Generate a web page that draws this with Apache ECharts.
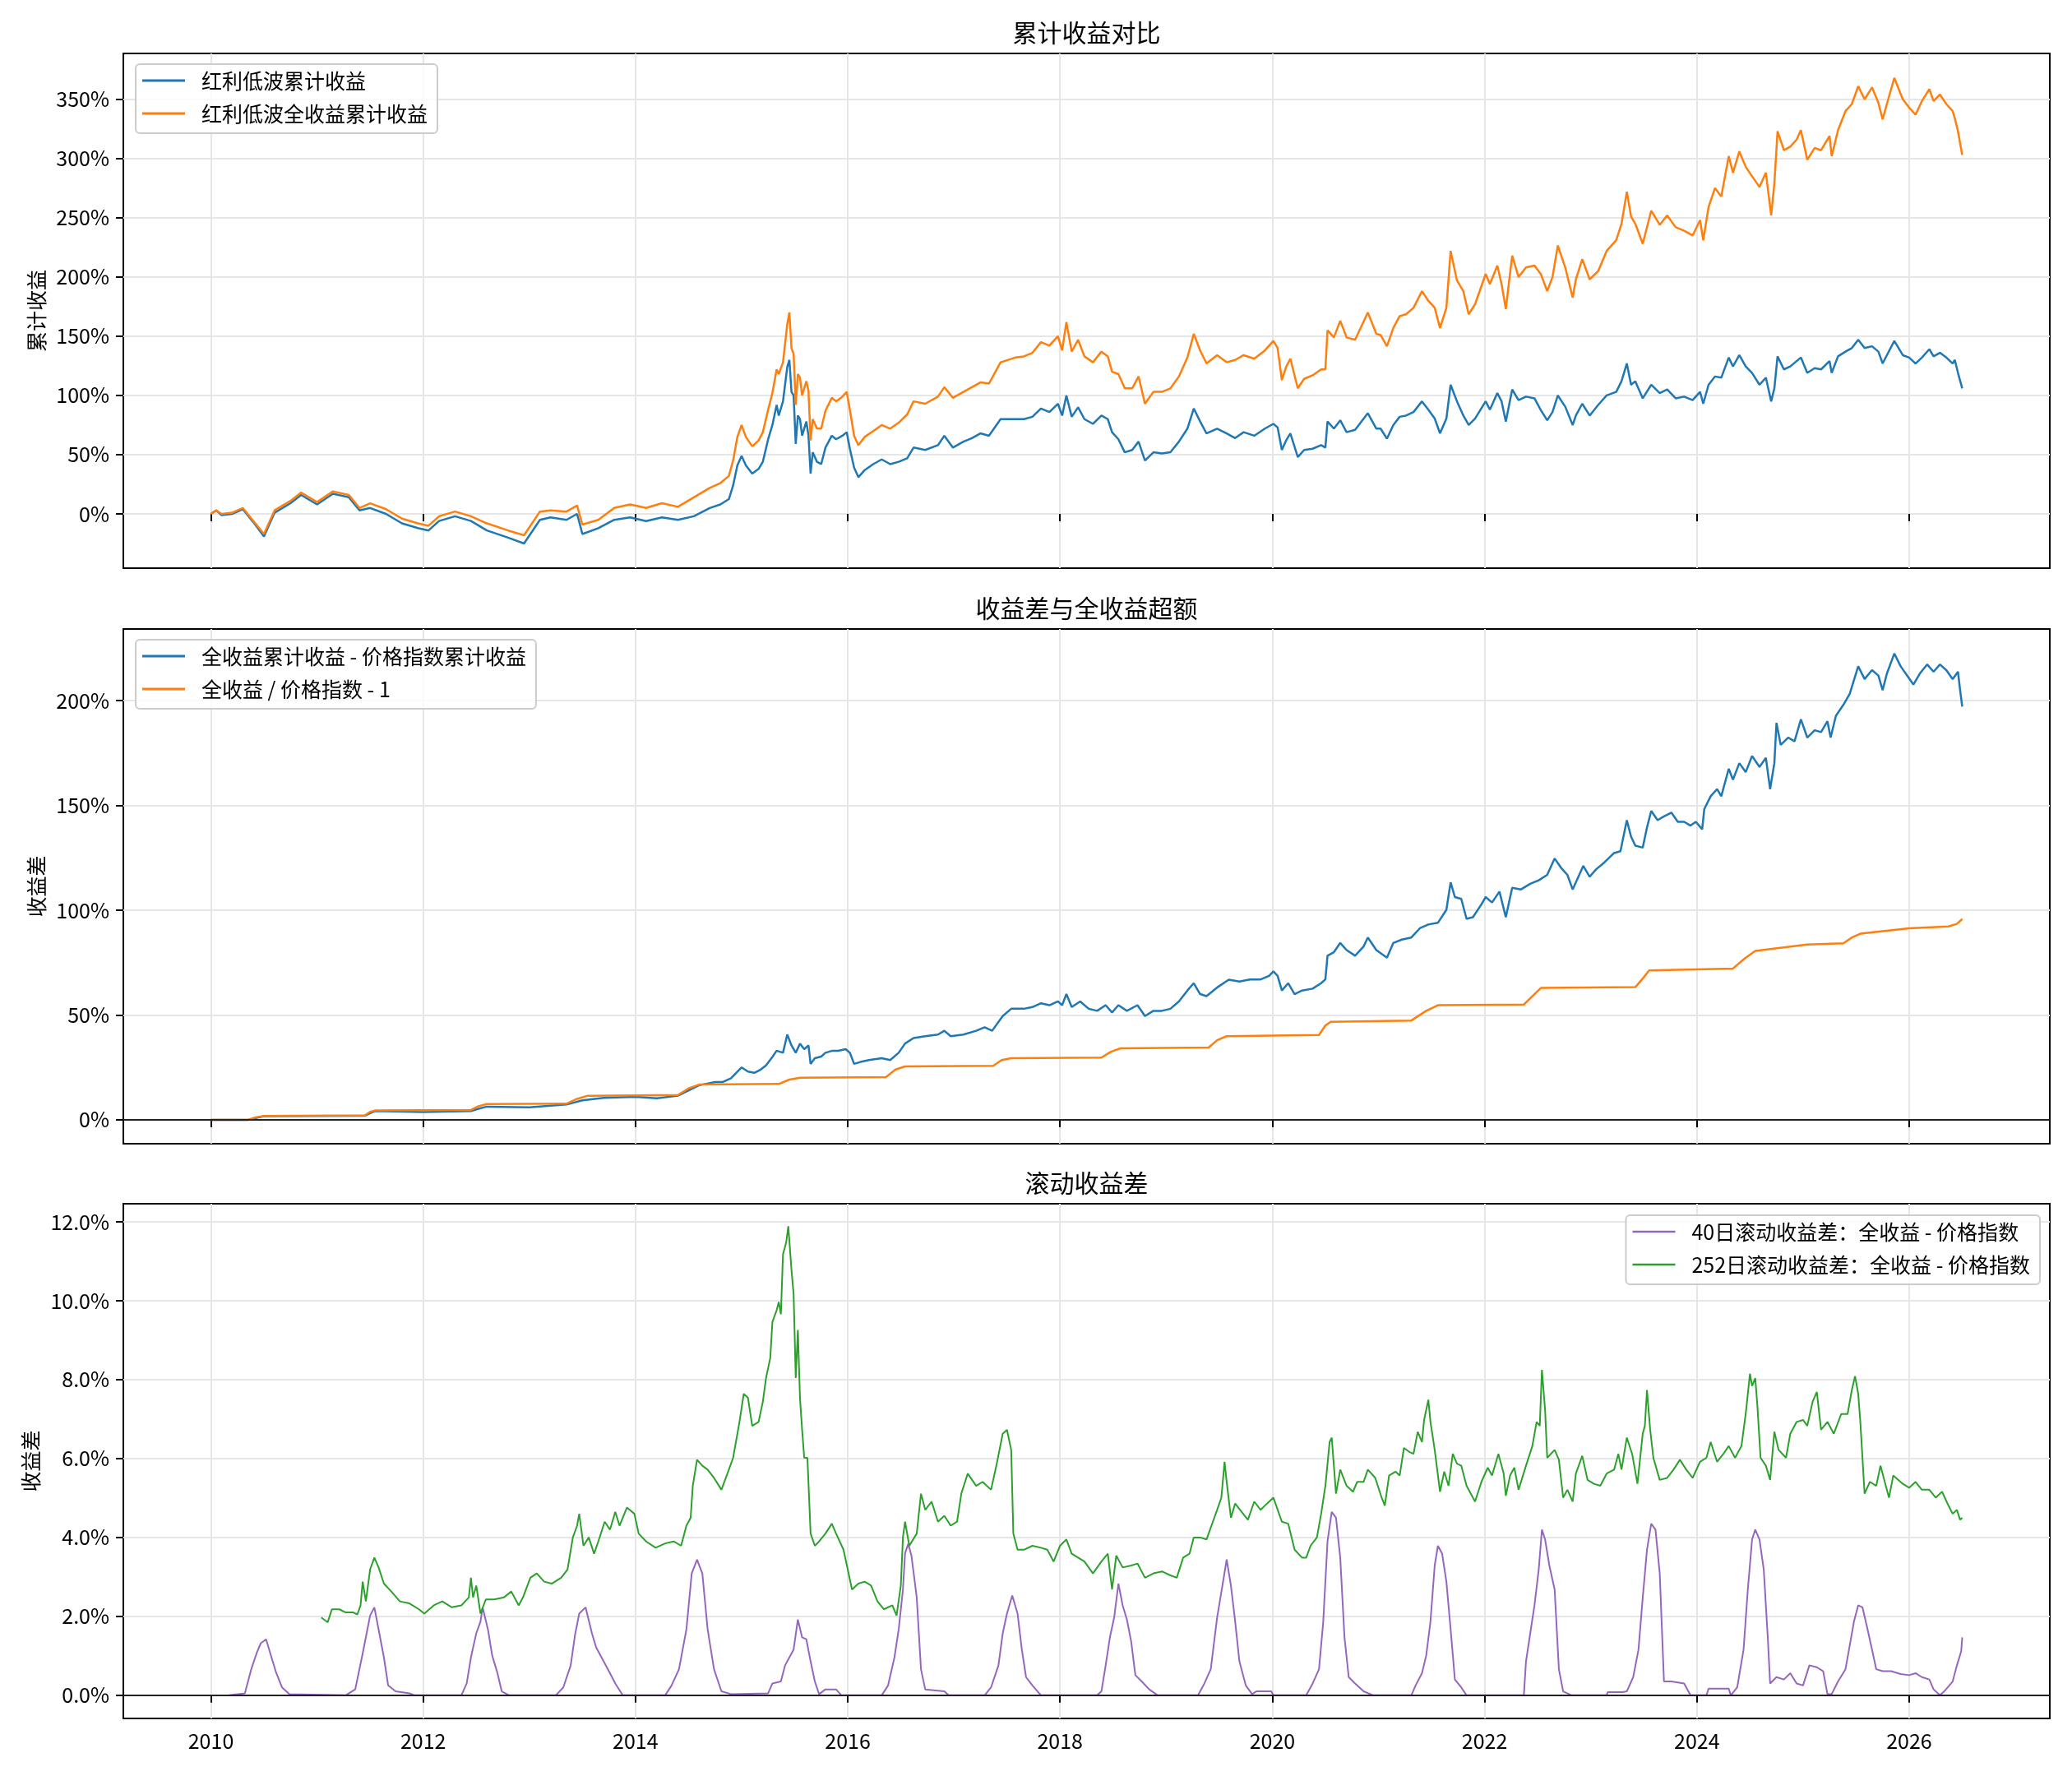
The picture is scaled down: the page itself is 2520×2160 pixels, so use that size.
<!DOCTYPE html>
<html>
<head>
<meta charset="utf-8">
<script src="https://cdn.jsdelivr.net/npm/echarts@6/dist/echarts.min.js"></script>
<style>
  html, body { margin: 0; padding: 0; background: #fff; }
  #chart { width: 2520px; height: 2160px; }
</style>
</head>
<body>
<div id="chart"></div>
<script>
// ---- 累计收益对比 (decimal years / %)
const cumX = [
  2010.00, 2010.05, 2010.10, 2010.20, 2010.30, 2010.40, 2010.50, 2010.60, 2010.75, 2010.85,
  2011.00, 2011.15, 2011.30, 2011.40, 2011.50, 2011.65, 2011.80, 2011.95,
  2012.05, 2012.15, 2012.30, 2012.45, 2012.60, 2012.80, 2012.95,
  2013.10, 2013.20, 2013.35, 2013.45, 2013.50, 2013.65, 2013.80, 2013.95,
  2014.10, 2014.25, 2014.40, 2014.55, 2014.70, 2014.80,
  2014.88, 2014.92, 2014.96, 2015.00, 2015.04, 2015.10, 2015.16, 2015.20, 2015.25, 2015.29, 2015.33, 2015.35, 2015.39, 2015.43, 2015.45, 2015.47, 2015.49, 2015.51, 2015.53, 2015.55, 2015.57, 2015.61, 2015.63, 2015.65, 2015.67, 2015.71, 2015.75, 2015.79, 2015.85, 2015.89, 2015.95, 2015.99,
  2016.02, 2016.06, 2016.10, 2016.16, 2016.24, 2016.32, 2016.40, 2016.48, 2016.56, 2016.62, 2016.73, 2016.85, 2016.91, 2016.99,
  2017.09, 2017.17, 2017.25, 2017.33, 2017.44, 2017.58, 2017.66, 2017.74, 2017.82, 2017.90, 2017.98,
  2018.02, 2018.06, 2018.11, 2018.17, 2018.23, 2018.31, 2018.39, 2018.45, 2018.49, 2018.55, 2018.61, 2018.68, 2018.74, 2018.80, 2018.88, 2018.96,
  2019.04, 2019.12, 2019.20, 2019.26, 2019.32, 2019.38, 2019.48, 2019.57, 2019.65, 2019.73, 2019.83, 2019.93,
  2020.01, 2020.05, 2020.09, 2020.13, 2020.17, 2020.24, 2020.30, 2020.38, 2020.46, 2020.50, 2020.52, 2020.58, 2020.64, 2020.70, 2020.78, 2020.90, 2020.98,
  2021.02, 2021.08, 2021.14, 2021.20, 2021.26, 2021.33, 2021.41, 2021.47, 2021.53, 2021.58, 2021.64, 2021.68, 2021.74, 2021.80, 2021.85, 2021.91,
  2022.01, 2022.05, 2022.12, 2022.16, 2022.20, 2022.26, 2022.32, 2022.39, 2022.47, 2022.53, 2022.59, 2022.64, 2022.69, 2022.76, 2022.83, 2022.86, 2022.92, 2022.99,
  2023.07, 2023.15, 2023.24, 2023.29, 2023.34, 2023.38, 2023.42, 2023.49, 2023.57, 2023.65, 2023.72, 2023.80, 2023.88, 2023.96,
  2024.03, 2024.06, 2024.11, 2024.17, 2024.23, 2024.30, 2024.34, 2024.40, 2024.46, 2024.52, 2024.59, 2024.65, 2024.70, 2024.73, 2024.76, 2024.82, 2024.88, 2024.94, 2024.98,
  2025.04, 2025.11, 2025.17, 2025.25, 2025.27, 2025.33, 2025.40, 2025.46, 2025.52, 2025.58, 2025.65, 2025.71, 2025.75, 2025.79, 2025.86, 2025.94,
  2026.00, 2026.06, 2026.12, 2026.19, 2026.23, 2026.29, 2026.35, 2026.41, 2026.43, 2026.46, 2026.50
];
const priceCum = [
  0, 3, -1, 0, 4, -7, -19, 1, 9, 16,
  8, 17, 14, 3, 5, 0, -8, -12,
  -14, -6, -2, -6, -14, -20, -25,
  -5, -3, -5, 0, -17, -12, -5, -3,
  -6, -3, -5, -2, 5, 8,
  12.5, 24, 41, 49, 41, 34, 38, 44, 63, 75, 92, 83, 95, 124, 130, 103, 100, 59, 83, 80, 66, 78, 66, 34, 52, 44, 42, 56, 66, 63, 66, 69,
  55, 39, 31, 37, 42, 46, 42, 44, 47, 56, 54, 58, 66, 56,
  61, 64, 68, 66, 80, 80, 80, 82, 89, 86, 93,
  83, 100, 82, 90, 80, 76, 83, 80, 69, 63, 52, 54, 61, 45, 52, 51,
  52, 61, 72, 89, 78, 68, 72, 68, 64, 69, 66, 72,
  76, 73, 54, 62, 68, 48, 54, 55, 58, 56, 78, 72, 79, 69, 71, 85, 72,
  72, 63.5, 75, 82, 83, 86, 95, 88, 80.5, 68, 80.5, 109, 95, 83, 75, 80.5,
  95, 88, 102, 95, 78, 105, 96, 99, 97.6, 87.6, 79, 86, 100, 90.5, 75, 83, 93, 83,
  92, 100, 103, 112, 127, 109, 112, 97.6, 109, 102, 105, 97.6, 99, 96,
  103, 93, 109, 116, 115, 132, 124.5, 134, 124.5, 119, 109, 115, 95, 106, 133, 122, 124.5, 129, 132,
  119, 123, 122, 129, 119, 133, 137, 140, 147, 140, 141.5, 137, 127, 134, 146, 134,
  132, 127, 132, 139, 133, 136, 132, 127, 130, 119, 106
];
const totalCum = [
  0, 3, 0, 1, 5, -6, -17, 3, 11, 18,
  10, 19, 16, 5, 9, 4, -4, -8,
  -10, -2, 2, -2, -8, -14, -18,
  2, 3, 2, 7, -9, -5, 5, 8,
  5, 9, 6, 14, 22, 26,
  32, 45, 65, 75, 65, 57, 62, 69, 88, 102, 122, 118, 128, 160, 170, 140, 135, 92, 118, 115, 100, 112, 104, 62, 80, 72, 72, 87, 98, 95, 99, 103,
  88, 66, 58, 65, 70, 75, 72, 77, 84, 95, 93, 99, 107, 98,
  103, 107, 111, 110, 128, 132, 133, 136, 145, 142, 150,
  138, 162, 137, 147, 133, 128, 137, 133, 120, 118, 106, 106, 116, 93, 103, 103,
  106, 116, 132, 152, 138, 127, 134, 128, 130, 134, 131, 138,
  146, 140, 113, 124, 131, 106, 114, 117, 122, 122, 155, 149, 163, 149, 147, 170, 152,
  151, 141.5, 157, 167, 168.5, 174, 188, 180, 174, 157, 174, 222, 197, 188, 168.5, 177,
  202.5, 194, 209.6, 194, 173, 218, 200, 208, 209.6, 202.5, 188, 200, 226.6, 208, 182.6, 198, 215, 198,
  205, 222, 231, 245, 272, 251, 245, 228, 256, 244, 252, 242, 239, 235,
  248, 231, 259, 275, 268, 302, 288, 306, 293, 285, 276, 288, 252, 279, 323, 307, 310, 316, 324,
  299, 309, 307, 319, 302, 324, 340, 346, 361, 350, 360, 347, 333, 346, 368, 350,
  343, 337, 348.5, 358.5, 348.5, 354, 346, 340, 334, 323, 303
];

// ---- 收益差与全收益超额
const gapX = [
  2010.00, 2010.35, 2010.42, 2010.50, 2011.00, 2011.45, 2011.50, 2011.55, 2012.00, 2012.45, 2012.52, 2012.60, 2013.00, 2013.35, 2013.50, 2013.70, 2014.00, 2014.20, 2014.40, 2014.60, 2014.75,
  2014.82, 2014.90, 2015.00, 2015.06, 2015.12, 2015.18, 2015.23, 2015.29, 2015.33, 2015.39, 2015.43, 2015.47, 2015.51, 2015.55, 2015.59, 2015.63, 2015.65, 2015.69, 2015.75, 2015.79, 2015.85, 2015.91, 2015.98,
  2016.02, 2016.06, 2016.12, 2016.20, 2016.32, 2016.40, 2016.48, 2016.54, 2016.62, 2016.73, 2016.85, 2016.91, 2016.97,
  2017.09, 2017.21, 2017.29, 2017.36, 2017.46, 2017.54, 2017.66, 2017.74, 2017.82, 2017.90, 2017.98,
  2018.02, 2018.06, 2018.11, 2018.19, 2018.27, 2018.35, 2018.43, 2018.49, 2018.55, 2018.63, 2018.73, 2018.80, 2018.88, 2018.96,
  2019.04, 2019.12, 2019.20, 2019.26, 2019.32, 2019.38, 2019.49, 2019.59, 2019.69, 2019.79, 2019.89, 2019.97,
  2020.01, 2020.05, 2020.09, 2020.15, 2020.21, 2020.28, 2020.38, 2020.46, 2020.50, 2020.52, 2020.58, 2020.64, 2020.70, 2020.78, 2020.86, 2020.90, 2020.98,
  2021.08, 2021.14, 2021.22, 2021.31, 2021.39, 2021.47, 2021.56, 2021.64, 2021.68, 2021.72, 2021.78, 2021.83, 2021.89, 2021.97,
  2022.01, 2022.07, 2022.14, 2022.20, 2022.26, 2022.34, 2022.43, 2022.51, 2022.59, 2022.66, 2022.72, 2022.78, 2022.83, 2022.93, 2022.99,
  2023.05, 2023.13, 2023.22, 2023.28, 2023.34, 2023.38, 2023.42, 2023.49, 2023.53, 2023.57, 2023.63, 2023.69, 2023.76, 2023.82, 2023.88, 2023.94, 2023.99,
  2024.05, 2024.07, 2024.13, 2024.19, 2024.23, 2024.30, 2024.34, 2024.40, 2024.46, 2024.52, 2024.59, 2024.65, 2024.69, 2024.73, 2024.75, 2024.79, 2024.86, 2024.92, 2024.98,
  2025.04, 2025.11, 2025.17, 2025.23, 2025.26, 2025.31, 2025.38, 2025.44, 2025.52, 2025.58, 2025.65, 2025.71, 2025.75, 2025.79, 2025.86, 2025.92, 2025.98,
  2026.04, 2026.10, 2026.17, 2026.23, 2026.29, 2026.35, 2026.41, 2026.46, 2026.48, 2026.50
];
const gapValues = [
  0, 0, 0.8, 1.7, 1.8, 1.9, 3.2, 4.2, 3.7, 4.2, 5.3, 6.3, 6.0, 7.3, 9.3, 10.5, 11, 10.3, 11.5, 16.5, 18,
  18, 19.8, 25, 23, 22.4, 24, 26, 30, 33, 32, 40.7, 35.5, 32, 36.4, 33.7, 35.5, 26.7, 29.4, 30.2, 32, 32.9, 32.9, 33.7,
  32, 26.7, 27.6, 28.5, 29.4, 28.5, 32, 36.4, 39, 39.9, 40.7, 42.5, 39.9,
  40.7, 42.5, 44.2, 42.5, 49.5, 53, 53, 53.8, 55.6, 54.7, 56.5,
  54.7, 60, 53.8, 56.5, 53, 52, 54.7, 51.2, 54.7, 52, 54.7, 49.5, 52, 52,
  53, 56.5, 61.7, 65.2, 60, 59, 63.5, 66.9, 66, 67, 67, 68.7,
  70.8, 68.7, 61.7, 65.2, 60, 61.7, 62.6, 65.2, 67, 78.3, 80, 84.4, 81, 78.3, 82.7, 87, 81,
  77.4, 84.4, 86, 87, 91.4, 93.2, 94, 100.2, 113.3, 106.3, 105.4, 95.9, 96.7, 102.8,
  106.3, 103.7, 108.9, 96.7, 110.7, 109.9, 112.6, 114.3, 116.9, 124.7, 120.3, 116.9, 109.9, 121.2, 116,
  119.5, 122.9, 127.3, 128.2, 143, 135.1, 130.8, 129.9, 139.5, 147.4, 143, 144.8, 146.6, 142.2, 142.2, 140.4, 142.2,
  138.6, 148.3, 154.4, 157.8, 154.4, 167.5, 162.3, 170.2, 165.9, 173.6, 168.4, 172.7, 157.8, 170.2, 189.4, 178.9, 182.4, 180.6, 191.1,
  182.4, 185.9, 185, 190.2, 182.4, 192.8, 198, 203.3, 216.4, 210.3, 214.6, 212, 205, 212.9, 222.5, 216.4, 212,
  207.7, 212.9, 217.3, 213.8, 217.3, 214.6, 210.3, 213.8, 205, 197.2
];
const ratioX = [
  2010.00, 2010.35, 2010.42, 2010.50, 2011.45, 2011.50, 2011.55, 2012.45, 2012.52, 2012.60,
  2013.35, 2013.45, 2013.55, 2014.40, 2014.50, 2014.60, 2015.35, 2015.45, 2015.55, 2016.36,
  2016.45, 2016.54, 2017.37, 2017.45, 2017.54, 2018.39, 2018.48, 2018.57, 2019.40, 2019.48,
  2019.57, 2020.44, 2020.50, 2020.55, 2021.31, 2021.45, 2021.56, 2022.37, 2022.45, 2022.53,
  2023.42, 2023.50, 2023.55, 2024.34, 2024.45, 2024.55, 2025.04, 2025.38, 2025.46, 2025.54,
  2026.00, 2026.37, 2026.45, 2026.50
];
const ratioValues = [
  0, 0, 1.2, 1.8, 2.1, 3.8, 4.5, 4.7, 6.5, 7.5,
  7.7, 10, 11.5, 11.8, 15, 16.8, 17.1, 19.2, 20.1, 20.4,
  24, 25.5, 25.8, 28.5, 29.4, 29.7, 32.5, 34.1, 34.5, 38,
  39.9, 40.5, 45, 46.8, 47.4, 52, 54.7, 55, 59, 62.9,
  63.3, 68, 71.3, 72.2, 77, 80.6, 83.6, 84.2, 87, 88.8,
  91.4, 92.3, 93.5, 95.8
];

// ---- 滚动收益差
const roll40X = [
  2010.17, 2010.32, 2010.38, 2010.43, 2010.47, 2010.52, 2010.56, 2010.61, 2010.67, 2010.74,
  2011.27, 2011.36, 2011.43, 2011.50, 2011.54, 2011.58, 2011.63, 2011.67, 2011.74, 2011.87, 2011.92,
  2012.36, 2012.41, 2012.45, 2012.50, 2012.54, 2012.56, 2012.61, 2012.65, 2012.70, 2012.74, 2012.81,
  2013.25, 2013.32, 2013.39, 2013.43, 2013.47, 2013.53, 2013.59, 2013.63, 2013.70, 2013.76, 2013.81, 2013.88,
  2014.28, 2014.34, 2014.41, 2014.48, 2014.53, 2014.58, 2014.63, 2014.68, 2014.74, 2014.81, 2014.90,
  2015.25, 2015.29, 2015.37, 2015.41, 2015.45, 2015.49, 2015.53, 2015.57, 2015.61, 2015.65, 2015.69, 2015.73, 2015.79, 2015.89, 2015.94,
  2016.32, 2016.38, 2016.44, 2016.48, 2016.52, 2016.54, 2016.57, 2016.60, 2016.65, 2016.69, 2016.73, 2016.91, 2016.95,
  2017.29, 2017.35, 2017.42, 2017.46, 2017.50, 2017.55, 2017.60, 2017.64, 2017.68, 2017.74, 2017.82,
  2018.35, 2018.39, 2018.43, 2018.47, 2018.51, 2018.55, 2018.59, 2018.63, 2018.67, 2018.71, 2018.77, 2018.84, 2018.92,
  2019.30, 2019.36, 2019.42, 2019.48, 2019.53, 2019.57, 2019.61, 2019.65, 2019.69, 2019.75, 2019.81, 2019.85, 2019.99,
  2020.01, 2020.32, 2020.38, 2020.44, 2020.48, 2020.52, 2020.56, 2020.60, 2020.64, 2020.68, 2020.72, 2020.78, 2020.86, 2020.95,
  2021.31, 2021.35, 2021.41, 2021.45, 2021.49, 2021.53, 2021.56, 2021.60, 2021.64, 2021.68, 2021.72, 2021.78, 2021.83,
  2022.37, 2022.39, 2022.43, 2022.47, 2022.51, 2022.54, 2022.57, 2022.61, 2022.66, 2022.70, 2022.74, 2022.82,
  2023.15, 2023.16, 2023.30, 2023.34, 2023.40, 2023.45, 2023.49, 2023.53, 2023.57, 2023.61, 2023.65, 2023.69, 2023.76, 2023.88, 2023.94,
  2024.09, 2024.11, 2024.30, 2024.32, 2024.38, 2024.44, 2024.48, 2024.52, 2024.55, 2024.59, 2024.63, 2024.67, 2024.69, 2024.75, 2024.82, 2024.88, 2024.94,
  2025.00, 2025.06, 2025.13, 2025.19, 2025.23, 2025.27, 2025.33, 2025.40, 2025.44, 2025.48, 2025.52, 2025.56, 2025.60, 2025.65, 2025.69, 2025.75, 2025.83, 2025.92,
  2026.00, 2026.06, 2026.12, 2026.19, 2026.23, 2026.29, 2026.33, 2026.41, 2026.45, 2026.49, 2026.50
];
const roll40Values = [
  0, 0.05, 0.66, 1.06, 1.32, 1.42, 1.06, 0.61, 0.2, 0.03,
  0, 0.15, 1.06, 2.02, 2.23, 1.67, 0.96, 0.25, 0.1, 0.05, 0,
  0, 0.3, 0.96, 1.57, 1.87, 2.23, 1.67, 1.01, 0.56, 0.1, 0,
  0, 0.2, 0.76, 1.52, 2.07, 2.23, 1.57, 1.21, 0.86, 0.56, 0.3, 0,
  0, 0.25, 0.66, 1.67, 3.09, 3.44, 3.09, 1.67, 0.66, 0.1, 0.03,
  0.05, 0.3, 0.35, 0.76, 0.96, 1.16, 1.92, 1.47, 1.42, 0.86, 0.35, 0.03, 0.15, 0.15, 0,
  0, 0.25, 0.96, 1.67, 2.68, 3.6, 3.84, 3.54, 2.48, 0.66, 0.15, 0.1, 0,
  0, 0.2, 0.76, 1.57, 2.07, 2.53, 2.07, 1.16, 0.46, 0.25, 0,
  0, 0.1, 0.76, 1.47, 1.97, 2.83, 2.28, 1.92, 1.37, 0.51, 0.35, 0.15, 0,
  0, 0.3, 0.66, 1.97, 2.78, 3.44, 2.78, 1.87, 0.86, 0.25, 0.03, 0.1, 0.1,
  0, 0, 0.3, 0.66, 1.87, 3.9, 4.65, 4.5, 3.49, 1.47, 0.46, 0.3, 0.1, 0,
  0, 0.25, 0.56, 1.01, 1.87, 3.29, 3.79, 3.59, 2.88, 1.67, 0.4, 0.2, 0,
  0, 0.86, 1.57, 2.28, 3.19, 4.2, 3.95, 3.29, 2.68, 0.66, 0.1, 0,
  0, 0.08, 0.08, 0.1, 0.46, 1.16, 2.48, 3.69, 4.35, 4.2, 3.09, 0.35, 0.35, 0.3, 0,
  0, 0.17, 0.17, 0, 0.2, 1.16, 2.68, 3.95, 4.2, 3.95, 3.19, 1.37, 0.3, 0.46, 0.4, 0.56, 0.3,
  0.25, 0.76, 0.71, 0.61, 0.03, 0.03, 0.35, 0.66, 1.26, 1.87, 2.28, 2.23, 1.77, 1.16, 0.66, 0.61, 0.61, 0.54,
  0.51, 0.56, 0.46, 0.4, 0.15, 0, 0.1, 0.35, 0.76, 1.11, 1.47
];
const roll252X = [
  2011.04, 2011.10, 2011.14, 2011.21, 2011.27, 2011.34, 2011.38, 2011.41, 2011.43, 2011.46, 2011.50, 2011.54, 2011.58, 2011.63, 2011.70, 2011.78, 2011.87, 2011.96,
  2012.01, 2012.10, 2012.18, 2012.27, 2012.36, 2012.43, 2012.45, 2012.47, 2012.50, 2012.54, 2012.59, 2012.67, 2012.76, 2012.83, 2012.90, 2012.94,
  2013.01, 2013.07, 2013.14, 2013.21, 2013.30, 2013.36, 2013.41, 2013.45, 2013.47, 2013.51, 2013.56, 2013.61, 2013.65, 2013.71, 2013.76, 2013.81, 2013.85, 2013.92, 2013.99,
  2014.03, 2014.10, 2014.19, 2014.28, 2014.36, 2014.43, 2014.48, 2014.52, 2014.54, 2014.58, 2014.63, 2014.68, 2014.74, 2014.81, 2014.88, 2014.92, 2014.98,
  2015.02, 2015.06, 2015.10, 2015.16, 2015.20, 2015.23, 2015.27, 2015.29, 2015.33, 2015.35, 2015.37, 2015.39, 2015.42, 2015.44, 2015.47, 2015.49, 2015.51, 2015.53, 2015.55, 2015.57, 2015.59, 2015.62, 2015.65, 2015.69, 2015.73, 2015.79, 2015.85, 2015.89, 2015.96,
  2016.00, 2016.04, 2016.10, 2016.16, 2016.22, 2016.28, 2016.34, 2016.42, 2016.46, 2016.50, 2016.52, 2016.54, 2016.58, 2016.65, 2016.69, 2016.73, 2016.79, 2016.85, 2016.91, 2016.97,
  2017.03, 2017.07, 2017.13, 2017.21, 2017.27, 2017.35, 2017.40, 2017.46, 2017.50, 2017.54, 2017.56, 2017.60, 2017.66, 2017.74, 2017.82, 2017.88, 2017.94,
  2018.00, 2018.06, 2018.11, 2018.17, 2018.23, 2018.31, 2018.39, 2018.45, 2018.49, 2018.53, 2018.59, 2018.67, 2018.73, 2018.80, 2018.88, 2018.96,
  2019.04, 2019.10, 2019.16, 2019.22, 2019.26, 2019.32, 2019.38, 2019.44, 2019.48, 2019.52, 2019.55, 2019.57, 2019.61, 2019.65, 2019.71, 2019.77, 2019.83, 2019.89, 2019.95,
  2020.01, 2020.09, 2020.15, 2020.21, 2020.28, 2020.32, 2020.36, 2020.42, 2020.46, 2020.50, 2020.54, 2020.56, 2020.60, 2020.64, 2020.70, 2020.76, 2020.80, 2020.86, 2020.90, 2020.97,
  2021.03, 2021.06, 2021.10, 2021.16, 2021.20, 2021.24, 2021.29, 2021.33, 2021.37, 2021.41, 2021.43, 2021.47, 2021.49, 2021.53, 2021.58, 2021.62, 2021.66, 2021.70, 2021.74, 2021.78, 2021.83, 2021.91, 2021.97,
  2022.03, 2022.07, 2022.13, 2022.18, 2022.20, 2022.24, 2022.28, 2022.32, 2022.39, 2022.45, 2022.49, 2022.52, 2022.54, 2022.57, 2022.59, 2022.66, 2022.70, 2022.74, 2022.78, 2022.83, 2022.86, 2022.92, 2022.97,
  2023.03, 2023.09, 2023.15, 2023.22, 2023.26, 2023.29, 2023.34, 2023.39, 2023.44, 2023.49, 2023.51, 2023.53, 2023.56, 2023.59, 2023.65, 2023.72, 2023.78, 2023.84, 2023.90, 2023.96,
  2024.03, 2024.09, 2024.13, 2024.19, 2024.25, 2024.30, 2024.36, 2024.42, 2024.46, 2024.50, 2024.52, 2024.55, 2024.57, 2024.60, 2024.65, 2024.69, 2024.73, 2024.77, 2024.84, 2024.88, 2024.94,
  2025.00, 2025.04, 2025.09, 2025.13, 2025.17, 2025.23, 2025.29, 2025.36, 2025.42, 2025.46, 2025.49, 2025.52, 2025.54, 2025.58, 2025.63, 2025.69, 2025.73, 2025.77, 2025.81, 2025.85, 2025.94,
  2026.00, 2026.06, 2026.12, 2026.19, 2026.25, 2026.31, 2026.37, 2026.41, 2026.45, 2026.48, 2026.50
];
const roll252Values = [
  1.97, 1.85, 2.18, 2.18, 2.1, 2.1, 2.05, 2.28, 2.88, 2.38, 3.19, 3.49, 3.24, 2.83, 2.63, 2.38, 2.33, 2.18,
  2.07, 2.28, 2.38, 2.23, 2.28, 2.48, 2.98, 2.48, 2.78, 2.07, 2.43, 2.43, 2.48, 2.63, 2.28, 2.48,
  2.98, 3.09, 2.88, 2.83, 2.98, 3.19, 4.0, 4.3, 4.6, 3.79, 4.0, 3.59, 3.9, 4.4, 4.2, 4.65, 4.3, 4.76, 4.6,
  4.1, 3.9, 3.74, 3.85, 3.9, 3.79, 4.3, 4.5, 5.31, 5.97, 5.82, 5.72, 5.51, 5.21, 5.72, 6.02, 6.93,
  7.64, 7.54, 6.83, 6.93, 7.44, 8.04, 8.55, 9.46, 9.76, 9.97, 9.66, 11.18, 11.48, 11.89, 10.78, 10.17, 8.04, 9.26, 7.54, 6.73, 6.02, 6.02, 4.1, 3.79, 3.9, 4.1, 4.35, 4.1, 3.69,
  3.19, 2.68, 2.83, 2.88, 2.78, 2.38, 2.18, 2.28, 2.02, 2.78, 4.0, 4.4, 3.79, 4.1, 5.11, 4.7, 4.91, 4.4, 4.55, 4.3,
  4.4, 5.11, 5.62, 5.31, 5.41, 5.21, 5.82, 6.63, 6.73, 6.22, 4.1, 3.69, 3.69, 3.79, 3.74, 3.69, 3.39,
  3.79, 3.95, 3.59, 3.49, 3.39, 3.09, 3.39, 3.59, 2.68, 3.54, 3.24, 3.29, 3.34, 2.98, 3.09, 3.14,
  3.04, 2.98, 3.49, 3.59, 4.0, 4.0, 3.95, 4.4, 4.7, 5.01, 5.92, 5.41, 4.5, 4.86, 4.65, 4.45, 4.91, 4.7, 4.86,
  5.01, 4.4, 4.35, 3.69, 3.49, 3.49, 3.79, 4.0, 4.6, 5.31, 6.42, 6.53, 5.11, 5.72, 5.31, 5.16, 5.41, 5.41, 5.72, 5.51,
  5.01, 4.81, 5.57, 5.67, 5.57, 6.27, 6.17, 6.12, 6.68, 6.42, 6.98, 7.49, 6.93, 6.22, 5.16, 5.67, 5.31, 6.12, 5.87, 5.82, 5.31, 4.91, 5.41,
  5.77, 5.57, 6.12, 5.62, 5.06, 5.57, 5.77, 5.21, 5.82, 6.32, 6.93, 6.83, 8.25, 7.23, 6.02, 6.22, 5.97, 5.01, 5.21, 4.91, 5.62, 6.07, 5.46,
  5.36, 5.31, 5.62, 5.72, 6.12, 5.72, 6.53, 6.12, 5.36, 6.63, 6.83, 7.74, 6.73, 6.02, 5.46, 5.51, 5.72, 5.97, 5.72, 5.51,
  5.92, 6.02, 6.42, 5.92, 6.12, 6.32, 6.02, 6.32, 7.13, 8.15, 7.84, 8.04, 7.34, 6.02, 5.82, 5.46, 6.68, 6.22, 6.02, 6.63, 6.93,
  6.98, 6.83, 7.44, 7.69, 6.73, 6.93, 6.63, 7.13, 7.13, 7.74, 8.09, 7.64, 6.93, 5.11, 5.41, 5.31, 5.82, 5.41, 5.01, 5.57, 5.36,
  5.26, 5.41, 5.21, 5.21, 5.01, 5.16, 4.81, 4.6, 4.7, 4.45, 4.5
];

// ---- ticks
const yearTicks = [2010, 2012, 2014, 2016, 2018, 2020, 2022, 2024, 2026];
const cumTicks = [0, 50, 100, 150, 200, 250, 300, 350];
const gapTicks = [0, 50, 100, 150, 200];
const rollTicks = [0, 2, 4, 6, 8, 10, 12];

const FONT = '"Noto Sans CJK SC", "Noto Sans", sans-serif';
const BLUE = '#1f77b4', ORANGE = '#ff7f0e', PURPLE = '#9467bd', GREEN = '#2ca02c';

const zip = (xs, ys) => xs.map((x, i) => [x, ys[i]]);

const chart = echarts.init(document.getElementById('chart'));

const gridTops = [65, 765, 1464];

function xAxisFor(i) {
  return {
    type: 'value', gridIndex: i, min: 2009.175, max: 2027.325,
    axisLine: { show: false },
    axisTick: { show: true, length: 9, lineStyle: { color: '#000', width: 2 }, customValues: yearTicks },
    axisLabel: { show: i === 2, customValues: yearTicks, formatter: v => String(v), fontSize: 25, color: '#000', fontFamily: FONT, margin: 15 },
    splitLine: { show: true, lineStyle: { color: '#e6e6e6', width: 2 } }
  };
}
function yAxisFor(i, name, min, max, ticks, fmt, gap) {
  return {
    type: 'value', gridIndex: i, min: min, max: max,
    name: name, nameLocation: 'middle', nameRotate: 90, nameGap: gap,
    nameTextStyle: { fontSize: 25, color: '#000', fontFamily: FONT },
    axisLine: { show: false },
    axisTick: { show: true, length: 9, lineStyle: { color: '#000', width: 2 }, customValues: ticks },
    axisLabel: { customValues: ticks, formatter: fmt, fontSize: 25, color: '#000', fontFamily: FONT, margin: 17 },
    splitLine: { show: true, lineStyle: { color: '#e6e6e6', width: 2 } }
  };
}
const zeroLine = {
  silent: true, symbol: 'none', label: { show: false },
  lineStyle: { color: '#222', width: 2, type: 'solid' },
  emphasis: { disabled: true },
  data: [{ yAxis: 0 }]
};
function lineSeries(name, xi, data, color, width, extra) {
  return Object.assign({
    name: name, type: 'line', xAxisIndex: xi, yAxisIndex: xi, data: data,
    showSymbol: false, symbol: 'none', color: color,
    lineStyle: { color: color, width: width }, itemStyle: { color: color },
    emphasis: { disabled: true }
  }, extra || {});
}
function legendFor(items, pos, lineH) {
  return Object.assign({
    orient: 'vertical', data: items, icon: 'rect', itemWidth: 52, itemHeight: lineH,
    itemGap: 10, padding: [5, 12, 9, 8], selectedMode: false,
    backgroundColor: 'rgba(255,255,255,0.8)', borderColor: '#cccccc', borderWidth: 2, borderRadius: 5,
    textStyle: { fontSize: 25, color: '#000', fontFamily: FONT, lineHeight: 30, padding: [0, 0, 0, 15] }
  }, pos);
}
function titleText(text, y) {
  return { type: 'text', x: 1321.5, y: y, style: { text: text, fontSize: 30, fontFamily: FONT, fill: '#000', align: 'center', verticalAlign: 'middle', textAlign: 'center', textVerticalAlign: 'middle' } };
}

const option = {
  animation: false,
  backgroundColor: '#fff',
  grid: gridTops.map(t => ({ left: 150, right: 27, top: t, height: 626, show: true, borderColor: '#000', borderWidth: 2, backgroundColor: 'transparent' })),
  xAxis: [xAxisFor(0), xAxisFor(1), xAxisFor(2)],
  yAxis: [
    yAxisFor(0, '累计收益', -45.8, 388.7, cumTicks, v => v + '%', 93),
    yAxisFor(1, '收益差', -11.4, 234.2, gapTicks, v => v + '%', 93),
    yAxisFor(2, '收益差', -0.587, 12.46, rollTicks, v => v.toFixed(1) + '%', 100)
  ],
  legend: [
    legendFor(['红利低波累计收益', '红利低波全收益累计收益'], { left: 165, top: 78 }, 3),
    legendFor(['全收益累计收益 - 价格指数累计收益', '全收益 / 价格指数 - 1'], { left: 165, top: 778 }, 3),
    legendFor(['40日滚动收益差：全收益 - 价格指数', '252日滚动收益差：全收益 - 价格指数'], { right: 39, top: 1478 }, 2.5)
  ],
  graphic: [
    titleText('累计收益对比', 40),
    titleText('收益差与全收益超额', 740),
    titleText('滚动收益差', 1439)
  ],
  series: [
    lineSeries('红利低波累计收益', 0, zip(cumX, priceCum), BLUE, 2.5),
    lineSeries('红利低波全收益累计收益', 0, zip(cumX, totalCum), ORANGE, 2.5),
    lineSeries('全收益累计收益 - 价格指数累计收益', 1, zip(gapX, gapValues), BLUE, 2.5, { markLine: zeroLine }),
    lineSeries('全收益 / 价格指数 - 1', 1, zip(ratioX, ratioValues), ORANGE, 2.5),
    lineSeries('40日滚动收益差：全收益 - 价格指数', 2, zip(roll40X, roll40Values), PURPLE, 2),
    lineSeries('252日滚动收益差：全收益 - 价格指数', 2, zip(roll252X, roll252Values), GREEN, 2, { markLine: zeroLine })
  ]
};

chart.setOption(option);
</script>
</body>
</html>
